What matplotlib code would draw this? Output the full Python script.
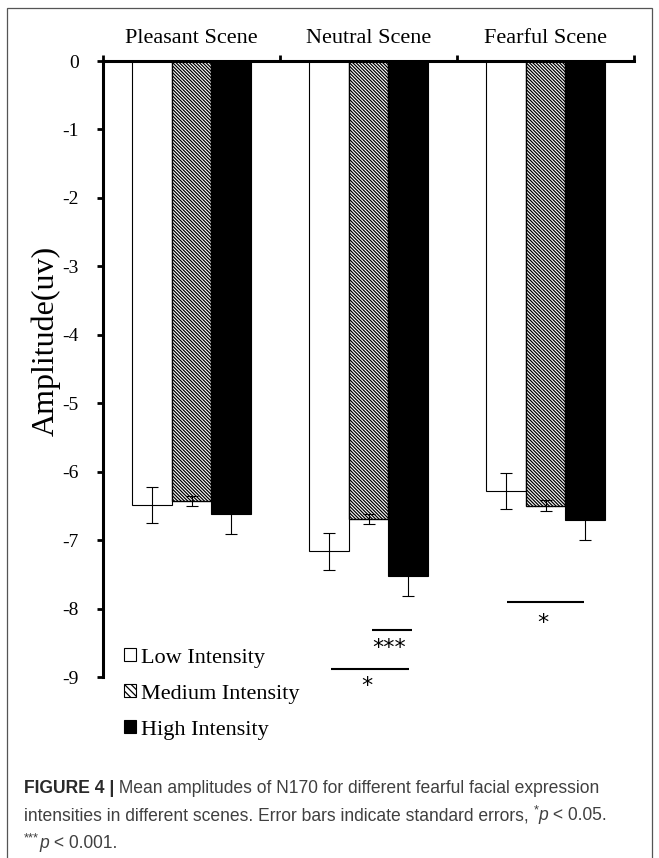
import matplotlib
matplotlib.use("Agg")
import matplotlib.pyplot as plt
from matplotlib.patches import Patch, Rectangle
from matplotlib.transforms import blended_transform_factory
import numpy as np

# ---------------- data ----------------
scenes = ["Pleasant Scene", "Neutral Scene", "Fearful Scene"]
intensities = ["Low Intensity", "Medium Intensity", "High Intensity"]
low_vals = [-6.49, -7.16, -6.28]
low_err = [0.26, 0.27, 0.26]
med_vals = [-6.43, -6.69, -6.50]
med_err = [0.07, 0.07, 0.08]
high_vals = [-6.62, -7.53, -6.71]
high_err = [0.29, 0.28, 0.29]
y_ticks = [0, -1, -2, -3, -4, -5, -6, -7, -8, -9]
# significance annotations
sig_x1 = [1.52, 1.29, 2.28]
sig_x2 = [1.746, 1.729, 2.72]
sig_y = [-8.31, -8.88, -7.91]
sig_labels = ["***", "*", "*"]
sig_lx = [1.616, 1.492, 2.486]
sig_ly = [-8.57, -9.13, -8.21]

caption_line1 = [("FIGURE 4 |", "bold"), (" Mean amplitudes of N170 for different fearful facial expression", "normal")]
caption_line2 = [("intensities in different scenes. Error bars indicate standard errors, ", "normal"),
                 ("*", "sup"), ("p", "italic"), (" < 0.05.", "normal")]
caption_line3 = [("***", "sup"), ("p", "italic"), (" < 0.001.", "normal")]

# ---------------- style ----------------
plt.rcParams['hatch.linewidth'] = 0.9
serif = 'Liberation Serif'

W, H = 659, 858
fig = plt.figure(figsize=(W / 100, H / 100), dpi=100)
ax = fig.add_axes([103 / W, 1 - 677 / H, (634 - 103) / W, 616 / H])

x = np.arange(len(scenes)) + 0.5
bw = 0.223
ekw = dict(ecolor='black', elinewidth=0.8, capsize=4.3, capthick=0.8)
HATCH = '\\' * 10
ax.bar(x - bw, low_vals, bw, yerr=low_err, color='white', edgecolor='black',
       linewidth=0.8, error_kw=ekw, label=intensities[0])
ax.bar(x, med_vals, bw, yerr=med_err, color='white', edgecolor='black',
       hatch=HATCH, linewidth=1.0, error_kw=ekw, label=intensities[1])
ax.bar(x + bw, high_vals, bw, yerr=high_err, color='black', edgecolor='black',
       linewidth=0.8, error_kw=ekw, label=intensities[2])

ax.set_xlim(0, 3)
ax.set_ylim(-9, 0)
ax.set_yticks(y_ticks)
ax.set_yticklabels([str(v) for v in y_ticks], fontfamily=serif, fontsize=14)
ax.tick_params(axis='y', direction='out', length=4, width=2, pad=13.5)

ax.xaxis.tick_top()
ax.set_xticks([0, 1, 2, 3])
ax.set_xticklabels([])
ax.tick_params(axis='x', direction='out', length=4, width=2)

for s in ['right', 'bottom']:
    ax.spines[s].set_visible(False)
ax.spines['left'].set_linewidth(2.2)
ax.spines['top'].set_linewidth(2.2)
ax.spines['left'].set_capstyle('projecting')

ax.set_ylabel("Amplitude(uv)", fontfamily=serif, fontsize=23)
ax.yaxis.set_label_coords(-(103 - 61) / 531, 0.545)

trans = blended_transform_factory(ax.transData, ax.transAxes)
for xi, s in zip(x, scenes):
    ax.text(xi, (677 - 43) / 616, s, transform=trans, ha='center', va='baseline',
            fontfamily=serif, fontsize=16)

for x1, x2, yy, lab, lx, ly in zip(sig_x1, sig_x2, sig_y, sig_labels, sig_lx, sig_ly):
    ax.plot([x1, x2], [yy, yy], color='black', lw=1.5, clip_on=False,
            solid_capstyle='butt')
    ax.text(lx, ly, lab, ha='center', va='center', fontfamily='DejaVu Sans', fontsize=16,
            clip_on=False)

handles = [Patch(facecolor='white', edgecolor='black', linewidth=0.8),
           Patch(facecolor='white', edgecolor='black', hatch='\\' * 5, linewidth=0.8),
           Patch(facecolor='black', edgecolor='black', linewidth=0.8)]
leg = ax.legend(handles, intensities, loc='upper left',
                bbox_to_anchor=(124 / W, 1 - 648 / H), bbox_transform=fig.transFigure,
                frameon=False, prop={'family': serif, 'size': 16},
                handlelength=0.55, handleheight=0.55, handletextpad=0.2,
                labelspacing=0.74, borderpad=0, borderaxespad=0)

# outer frame
fig.patches.append(Rectangle((7 / W, -0.05), (652 - 7) / W, 1.05 - 8 / H,
                             transform=fig.transFigure, fill=False,
                             edgecolor='#555555', linewidth=0.9))

# caption
cap_color = '#404040'
fig.canvas.draw()
r = fig.canvas.get_renderer()

def make_text(xpx, ypx, s, kind, fsz):
    kw = dict(fontfamily='Liberation Sans', fontsize=fsz, color=cap_color, va='baseline')
    if kind == 'bold':
        kw['fontweight'] = 'bold'
        kw['color'] = '#2a2a2a'
    elif kind == 'italic':
        kw['fontstyle'] = 'italic'
    elif kind == 'sup':
        kw['fontsize'] = fsz * 0.75
        ypx = ypx - fsz * 0.40 * 100 / 72
    return fig.text(xpx / W, 1 - ypx / H, s, **kw)

def draw_line(pieces, xpx, ypx, fsz, keep=True):
    cur = xpx
    made = []
    for s, kind in pieces:
        t = make_text(cur, ypx, s, kind, fsz)
        cur += t.get_window_extent(r).width
        made.append(t)
    if not keep:
        for t in made:
            t.remove()
    return cur - xpx

fs = 12.7
w1 = draw_line(caption_line1, 0, 0, fs, keep=False)
fs = fs * 578.0 / w1

draw_line(caption_line1, 24, 793, fs)
draw_line(caption_line2, 24, 820.5, fs)
draw_line(caption_line3, 24, 848, fs)

fig.savefig("out.png", dpi=100)
